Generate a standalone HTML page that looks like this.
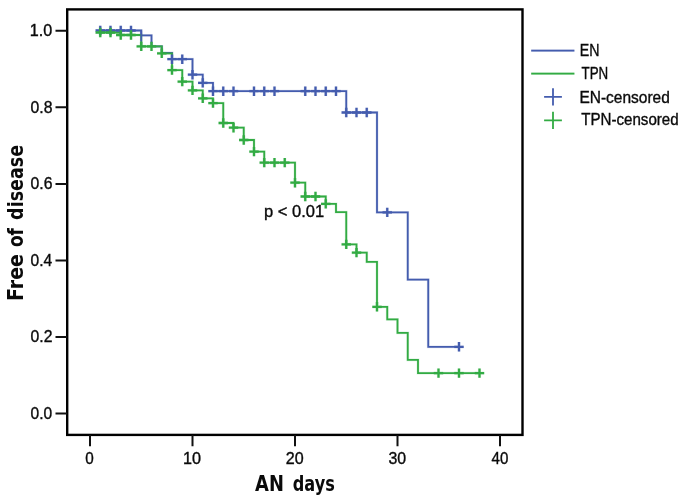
<!DOCTYPE html>
<html><head><meta charset="utf-8"><title>Kaplan-Meier</title>
<style>html,body{margin:0;padding:0;background:#fff}svg{display:block}</style></head>
<body>
<svg width="685" height="501" viewBox="0 0 685 501">
<rect x="0" y="0" width="685" height="501" fill="#ffffff"/>
<g fill="none">
<path d="M100.25 30.50 H141.25 V35.40 H151.50 V46.30 H161.75 V53.00 H172.00 V59.20 H192.50 V74.70 H202.75 V82.90 H213.00 V91.20 H346.25 V112.50 H377.00 V212.40 H407.75 V279.60 H428.25 V346.80 H459.00 M531.2 50.6 H574.4" stroke="#445cae" stroke-width="2.8" stroke-opacity="0.18"/>
<path d="M100.25 32.50 H120.75 V35.00 H141.25 V46.40 H161.75 V53.30 H172.00 V70.10 H182.25 V81.60 H192.50 V90.40 H202.75 V98.30 H213.00 V103.10 H223.25 V123.00 H233.50 V127.70 H243.75 V140.00 H254.00 V151.60 H264.25 V162.60 H295.00 V182.70 H305.25 V196.50 H325.75 V203.90 H336.00 V212.10 H346.25 V244.40 H356.50 V252.60 H366.75 V261.90 H377.00 V306.80 H387.25 V319.30 H397.50 V332.90 H407.75 V359.80 H418.00 V373.10 H479.50 M531.2 73.7 H574.4" stroke="#32ab43" stroke-width="2.8" stroke-opacity="0.18"/>
<path d="M95.55 30.50 h9.4 M100.25 25.80 v9.4 M105.80 30.50 h9.4 M110.50 25.80 v9.4 M116.05 30.50 h9.4 M120.75 25.80 v9.4 M126.30 30.50 h9.4 M131.00 25.80 v9.4 M167.30 59.20 h9.4 M172.00 54.50 v9.4 M177.55 59.20 h9.4 M182.25 54.50 v9.4 M187.80 74.70 h9.4 M192.50 70.00 v9.4 M198.05 82.90 h9.4 M202.75 78.20 v9.4 M208.30 91.20 h9.4 M213.00 86.50 v9.4 M218.55 91.20 h9.4 M223.25 86.50 v9.4 M228.80 91.20 h9.4 M233.50 86.50 v9.4 M249.30 91.20 h9.4 M254.00 86.50 v9.4 M259.55 91.20 h9.4 M264.25 86.50 v9.4 M269.80 91.20 h9.4 M274.50 86.50 v9.4 M300.55 91.20 h9.4 M305.25 86.50 v9.4 M310.80 91.20 h9.4 M315.50 86.50 v9.4 M321.05 91.20 h9.4 M325.75 86.50 v9.4 M331.30 91.20 h9.4 M336.00 86.50 v9.4 M341.55 112.50 h9.4 M346.25 107.80 v9.4 M351.80 112.50 h9.4 M356.50 107.80 v9.4 M362.05 112.50 h9.4 M366.75 107.80 v9.4 M382.55 212.40 h9.4 M387.25 207.70 v9.4 M454.30 346.80 h9.4 M459.00 342.10 v9.4" stroke="#445cae" stroke-width="3.2" stroke-opacity="0.15"/>
<path d="M95.55 32.50 h9.4 M100.25 27.80 v9.4 M105.80 32.50 h9.4 M110.50 27.80 v9.4 M116.05 35.00 h9.4 M120.75 30.30 v9.4 M126.30 35.00 h9.4 M131.00 30.30 v9.4 M136.55 46.40 h9.4 M141.25 41.70 v9.4 M146.80 46.40 h9.4 M151.50 41.70 v9.4 M157.05 53.30 h9.4 M161.75 48.60 v9.4 M167.30 70.10 h9.4 M172.00 65.40 v9.4 M177.55 81.60 h9.4 M182.25 76.90 v9.4 M187.80 90.40 h9.4 M192.50 85.70 v9.4 M198.05 98.30 h9.4 M202.75 93.60 v9.4 M208.30 103.10 h9.4 M213.00 98.40 v9.4 M218.55 123.00 h9.4 M223.25 118.30 v9.4 M228.80 127.70 h9.4 M233.50 123.00 v9.4 M239.05 140.00 h9.4 M243.75 135.30 v9.4 M249.30 151.60 h9.4 M254.00 146.90 v9.4 M259.55 162.60 h9.4 M264.25 157.90 v9.4 M269.80 162.60 h9.4 M274.50 157.90 v9.4 M280.05 162.60 h9.4 M284.75 157.90 v9.4 M290.30 182.70 h9.4 M295.00 178.00 v9.4 M300.55 196.50 h9.4 M305.25 191.80 v9.4 M310.80 196.50 h9.4 M315.50 191.80 v9.4 M321.05 203.90 h9.4 M325.75 199.20 v9.4 M341.55 244.40 h9.4 M346.25 239.70 v9.4 M351.80 252.60 h9.4 M356.50 247.90 v9.4 M372.30 306.80 h9.4 M377.00 302.10 v9.4 M433.80 373.10 h9.4 M438.50 368.40 v9.4 M454.30 373.10 h9.4 M459.00 368.40 v9.4 M474.80 373.10 h9.4 M479.50 368.40 v9.4" stroke="#32ab43" stroke-width="3.2" stroke-opacity="0.15"/>
<path d="M100.25 30.50 H141.25 V35.40 H151.50 V46.30 H161.75 V53.00 H172.00 V59.20 H192.50 V74.70 H202.75 V82.90 H213.00 V91.20 H346.25 V112.50 H377.00 V212.40 H407.75 V279.60 H428.25 V346.80 H459.00 M531.2 50.6 H574.4" stroke="#445cae" stroke-width="1.8"/>
<path d="M100.25 32.50 H120.75 V35.00 H141.25 V46.40 H161.75 V53.30 H172.00 V70.10 H182.25 V81.60 H192.50 V90.40 H202.75 V98.30 H213.00 V103.10 H223.25 V123.00 H233.50 V127.70 H243.75 V140.00 H254.00 V151.60 H264.25 V162.60 H295.00 V182.70 H305.25 V196.50 H325.75 V203.90 H336.00 V212.10 H346.25 V244.40 H356.50 V252.60 H366.75 V261.90 H377.00 V306.80 H387.25 V319.30 H397.50 V332.90 H407.75 V359.80 H418.00 V373.10 H479.50 M531.2 73.7 H574.4" stroke="#32ab43" stroke-width="1.8"/>
<path d="M141.25 30.5 V41.5" stroke="#445cae" stroke-width="1.8" stroke-opacity="1.0"/>
<path d="M95.55 30.50 h9.4 M100.25 25.80 v9.4 M105.80 30.50 h9.4 M110.50 25.80 v9.4 M116.05 30.50 h9.4 M120.75 25.80 v9.4 M126.30 30.50 h9.4 M131.00 25.80 v9.4 M167.30 59.20 h9.4 M172.00 54.50 v9.4 M177.55 59.20 h9.4 M182.25 54.50 v9.4 M187.80 74.70 h9.4 M192.50 70.00 v9.4 M198.05 82.90 h9.4 M202.75 78.20 v9.4 M208.30 91.20 h9.4 M213.00 86.50 v9.4 M218.55 91.20 h9.4 M223.25 86.50 v9.4 M228.80 91.20 h9.4 M233.50 86.50 v9.4 M249.30 91.20 h9.4 M254.00 86.50 v9.4 M259.55 91.20 h9.4 M264.25 86.50 v9.4 M269.80 91.20 h9.4 M274.50 86.50 v9.4 M300.55 91.20 h9.4 M305.25 86.50 v9.4 M310.80 91.20 h9.4 M315.50 86.50 v9.4 M321.05 91.20 h9.4 M325.75 86.50 v9.4 M331.30 91.20 h9.4 M336.00 86.50 v9.4 M341.55 112.50 h9.4 M346.25 107.80 v9.4 M351.80 112.50 h9.4 M356.50 107.80 v9.4 M362.05 112.50 h9.4 M366.75 107.80 v9.4 M382.55 212.40 h9.4 M387.25 207.70 v9.4 M454.30 346.80 h9.4 M459.00 342.10 v9.4" stroke="#445cae" stroke-width="2.3"/>
<path d="M95.55 32.50 h9.4 M100.25 27.80 v9.4 M105.80 32.50 h9.4 M110.50 27.80 v9.4 M116.05 35.00 h9.4 M120.75 30.30 v9.4 M126.30 35.00 h9.4 M131.00 30.30 v9.4 M136.55 46.40 h9.4 M141.25 41.70 v9.4 M146.80 46.40 h9.4 M151.50 41.70 v9.4 M157.05 53.30 h9.4 M161.75 48.60 v9.4 M167.30 70.10 h9.4 M172.00 65.40 v9.4 M177.55 81.60 h9.4 M182.25 76.90 v9.4 M187.80 90.40 h9.4 M192.50 85.70 v9.4 M198.05 98.30 h9.4 M202.75 93.60 v9.4 M208.30 103.10 h9.4 M213.00 98.40 v9.4 M218.55 123.00 h9.4 M223.25 118.30 v9.4 M228.80 127.70 h9.4 M233.50 123.00 v9.4 M239.05 140.00 h9.4 M243.75 135.30 v9.4 M249.30 151.60 h9.4 M254.00 146.90 v9.4 M259.55 162.60 h9.4 M264.25 157.90 v9.4 M269.80 162.60 h9.4 M274.50 157.90 v9.4 M280.05 162.60 h9.4 M284.75 157.90 v9.4 M290.30 182.70 h9.4 M295.00 178.00 v9.4 M300.55 196.50 h9.4 M305.25 191.80 v9.4 M310.80 196.50 h9.4 M315.50 191.80 v9.4 M321.05 203.90 h9.4 M325.75 199.20 v9.4 M341.55 244.40 h9.4 M346.25 239.70 v9.4 M351.80 252.60 h9.4 M356.50 247.90 v9.4 M372.30 306.80 h9.4 M377.00 302.10 v9.4 M433.80 373.10 h9.4 M438.50 368.40 v9.4 M454.30 373.10 h9.4 M459.00 368.40 v9.4 M474.80 373.10 h9.4 M479.50 368.40 v9.4" stroke="#32ab43" stroke-width="2.3"/>
<path d="M544.1 96.8 H561.9 M553 88.2 V105.4" stroke="#445cae" stroke-width="1.8"/>
<path d="M544.1 120.3 H561.9 M553 111.7 V128.9" stroke="#32ab43" stroke-width="1.8"/>
</g>
<rect x="67.2" y="9.4" width="455.3" height="425.5" fill="none" stroke="#000" stroke-width="2.4"/>
<path d="M55.5 413.60 H67 M55.5 337.04 H67 M55.5 260.48 H67 M55.5 183.92 H67 M55.5 107.36 H67 M55.5 30.80 H67 M90.00 435 V446.2 M192.50 435 V446.2 M295.00 435 V446.2 M397.50 435 V446.2 M500.00 435 V446.2" stroke="#111" stroke-width="2" fill="none"/>
<g font-family="'Liberation Sans', Arial, sans-serif" font-size="15.7" fill="#0a0a0a" stroke="#0a0a0a" stroke-width="0.35">
<text x="30.60" y="418.75" textLength="21.65" lengthAdjust="spacingAndGlyphs">0.0</text>
<text x="30.60" y="342.19" textLength="21.92" lengthAdjust="spacingAndGlyphs">0.2</text>
<text x="30.60" y="265.63" textLength="21.65" lengthAdjust="spacingAndGlyphs">0.4</text>
<text x="30.60" y="189.07" textLength="21.92" lengthAdjust="spacingAndGlyphs">0.6</text>
<text x="30.60" y="112.51" textLength="21.92" lengthAdjust="spacingAndGlyphs">0.8</text>
<text x="29.81" y="35.95" textLength="22.47" lengthAdjust="spacingAndGlyphs">1.0</text>
<text x="85.16" y="463.90" textLength="8.50" lengthAdjust="spacingAndGlyphs">0</text>
<text x="183.01" y="463.90" textLength="18.02" lengthAdjust="spacingAndGlyphs">10</text>
<text x="285.83" y="463.90" textLength="17.89" lengthAdjust="spacingAndGlyphs">20</text>
<text x="388.44" y="463.90" textLength="17.67" lengthAdjust="spacingAndGlyphs">30</text>
<text x="491.61" y="463.90" textLength="16.82" lengthAdjust="spacingAndGlyphs">40</text>
<text x="264.00" y="216.50" font-size="16.6" textLength="60.23" lengthAdjust="spacingAndGlyphs">p &lt; 0.01</text>
<text x="579.68" y="55.50" font-size="15.9" textLength="19.70" lengthAdjust="spacingAndGlyphs">EN</text>
<text x="581.49" y="78.50" font-size="15.9" textLength="26.70" lengthAdjust="spacingAndGlyphs">TPN</text>
<text x="579.38" y="102.50" font-size="15.9" textLength="90.50" lengthAdjust="spacingAndGlyphs">EN-censored</text>
<text x="581.16" y="125.40" font-size="15.9" textLength="97.55" lengthAdjust="spacingAndGlyphs">TPN-censored</text>
</g>
<g font-family="'DejaVu Sans Condensed', 'DejaVu Sans', 'Liberation Sans', sans-serif" font-size="20.5" font-weight="bold" fill="#0a0a0a" word-spacing="0" style="font-stretch:condensed">
<text><tspan x="255.06" y="490.70" textLength="28.81" lengthAdjust="spacingAndGlyphs">AN</tspan> <tspan x="292.74" y="490.70" textLength="42.04" lengthAdjust="spacingAndGlyphs">days</tspan></text>
<text transform="translate(22.70 299.40) rotate(-90)"><tspan x="-1.51" y="0.00" textLength="46.96" lengthAdjust="spacingAndGlyphs">Free</tspan> <tspan x="52.31" y="0.00" textLength="19.15" lengthAdjust="spacingAndGlyphs">of</tspan> <tspan x="79.49" y="0.00" textLength="75.12" lengthAdjust="spacingAndGlyphs">disease</tspan></text>
</g>
</svg>
</body></html>
